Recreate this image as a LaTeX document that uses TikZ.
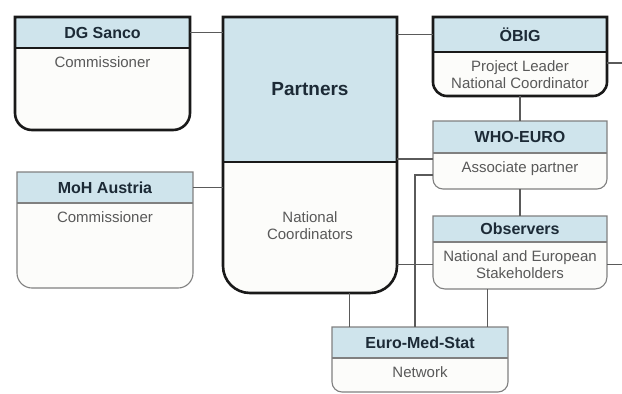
\documentclass[tikz,border=0pt]{standalone}
\usepackage{fontspec}
\setmainfont{Liberation Sans}
\usetikzlibrary{positioning}
\usetikzlibrary{fit}
\usetikzlibrary{calc}

\definecolor{headblue}{HTML}{CFE4EC}
\definecolor{bodywhite}{HTML}{FCFCFA}
\definecolor{titleink}{HTML}{1C2A36}
\definecolor{textink}{HTML}{595959}
\definecolor{linegray}{HTML}{5A5A5A}

\tikzset{
  boxr/.store in=\boxr, boxr=10,
  bodyshift/.store in=\bodyshift, bodyshift=8,
  framepen/.style={draw=black!50, line width=1.1pt},
  heavy/.style={framepen/.style={draw=black!90, line width=2.6pt}},
  title/.style={font=\fontsize{16}{19}\selectfont\bfseries, text=titleink, inner sep=0pt},
  remark/.style={font=\fontsize{15}{17}\selectfont, text=textink, align=center, inner sep=0pt},
  wire/.style={draw=linegray, line width=1.1pt},
  outline/.style={insert path={(#1-nw) -- ([yshift=\boxr pt]#1-sw) to[out=-90,in=180] ([xshift=\boxr pt]#1-sw)
    -- ([xshift=-\boxr pt]#1-se) to[out=0,in=-90] ([yshift=\boxr pt]#1-se) -- (#1-ne) -- cycle}},
}

\newcommand{\orgbox}[7][]{%
  \begin{scope}[#1]
  \coordinate (#2-nw) at (#3);
  \coordinate (#2-se) at (#4);
  \coordinate (#2-sw) at (#2-nw |- #2-se);
  \coordinate (#2-ne) at (#2-se |- #2-nw);
  \coordinate (#2-hl) at (#2-nw |- 0,#5);
  \coordinate (#2-hr) at (#2-se |- 0,#5);
  \coordinate (#2-hm) at ($(#2-hl)!0.5!(#2-hr)$);
  \path[fill=bodywhite, outline=#2];
  \fill[headblue] (#2-nw) rectangle (#2-hr);
  \path[framepen, outline=#2];
  \path[framepen] (#2-hl) -- (#2-hr);
  \node[fit=(#2-nw)(#2-se), inner sep=0pt] (#2) {};
  \node[title] (#2-hd) at ($(#2-nw)!0.5!(#2-hr)$) {#6};
  \node[remark, anchor=north] (#2-bd) at ([yshift=-\bodyshift pt]#2-hm) {#7};
  \end{scope}
}

\begin{document}
\begin{tikzpicture}[x=1pt, y=-1pt]
\useasboundingbox (0,0) rectangle (622,394);

\orgbox[heavy, boxr=17]{dg}{15,17}{190,130}{48}{DG Sanco}{Commissioner}
\orgbox[boxr=15]{moh}{17,172}{193,288}{203}{MoH Austria}{Commissioner}
\orgbox[heavy, boxr=27, bodyshift=49, title/.append style={font=\fontsize{19}{22}\selectfont\bfseries}]{partners}{223,17}{397,293}{162}{Partners}{National\\Coordinators}
\orgbox[heavy, boxr=14]{obig}{433,17}{607,96}{52}{ÖBIG}{Project Leader\\National Coordinator}
\orgbox{who}{433,121}{607,189}{153}{WHO-EURO}{Associate partner}
\orgbox[boxr=12]{obs}{433,216}{607,289}{242}{Observers}{National and European\\Stakeholders}
\orgbox{ems}{332,327}{508,392}{358}{Euro-Med-Stat}{Network}

\coordinate (obig-out) at (622,63);
\coordinate (obs-out) at (622,265);

\draw[wire] (dg-hd.east -| dg.east) -- (dg-hd.east -| partners.west);
\draw[wire] (moh-hd.east -| moh.east) -- (moh-hd.east -| partners.west);
\draw[wire] (obig-hd.west -| obig.west) -- (obig-hd.west -| partners.east);
\draw[wire] (obig.east |- obig-out) -- (obig-out);
\draw[wire] (obig.south) -- (who.north);
\draw[wire] (who.south) -- (obs.north);
\draw[wire] ([yshift=-4pt]who.west) coordinate (w1) -- (w1 -| partners.east);
\draw[wire] ([yshift=-20pt]who.west) -| ([xshift=-5pt]ems.north);
\draw[wire] (obs.west |- obs-bd) -- (partners.east |- obs-bd);
\draw[wire] (obs.east |- obs-bd) -- (obs-out |- obs-bd);
\draw[wire] ([xshift=18pt]ems.north west) coordinate (e1) -- (e1 |- partners.south);
\draw[wire] ([xshift=55pt]obs.south west) coordinate (o1) -- (o1 |- ems.north);
\end{tikzpicture}
\end{document}
